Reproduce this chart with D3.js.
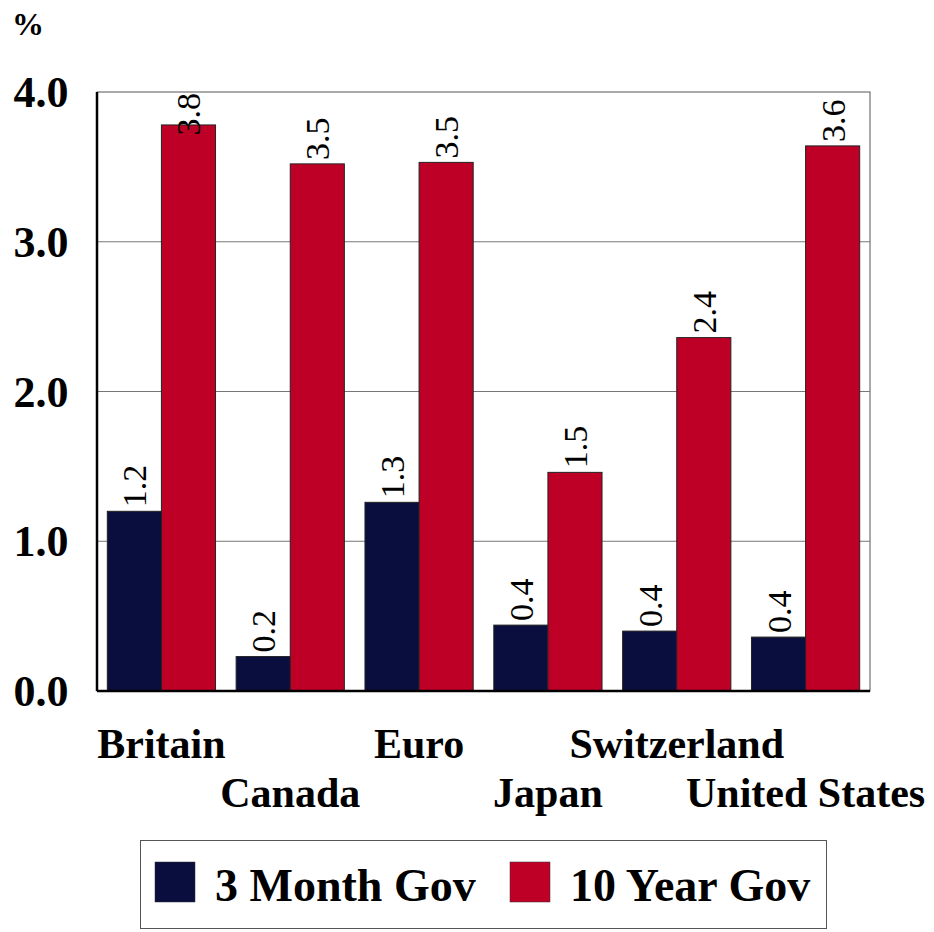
<!DOCTYPE html>
<html>
<head>
<meta charset="utf-8">
<script src="https://cdn.jsdelivr.net/npm/d3@7"></script>
<style>
  body { margin: 0; background: #fff; }
  svg text { font-family: "Liberation Serif", "DejaVu Serif", serif; }
</style>
</head>
<body>
<script>
const countries = ["Britain", "Canada", "Euro", "Japan", "Switzerland", "United States"];
const seriesNames = ["3 Month Gov", "10 Year Gov"];
const threeMonth = [1.20, 0.23, 1.26, 0.44, 0.40, 0.36];
const tenYear = [3.78, 3.52, 3.53, 1.46, 2.36, 3.64];
const yTicks = [0, 1, 2, 3, 4];
const colors = ["#0a0e3e", "#be0027"];

const width = 934;
const height = 932;
const margin = { top: 92, right: 64, bottom: 241, left: 97 };

const svg = d3.select("body").append("svg")
  .attr("width", width)
  .attr("height", height);

const data = countries.map((c, i) => ({ country: c, values: [threeMonth[i], tenYear[i]] }));

const x0 = d3.scaleBand()
  .domain(countries)
  .range([margin.left, width - margin.right])
  .paddingInner(0.16)
  .paddingOuter(0.08);

const x1 = d3.scaleBand()
  .domain(d3.range(seriesNames.length))
  .range([0, x0.bandwidth()]);

const y = d3.scaleLinear()
  .domain([0, 4])
  .range([height - margin.bottom, margin.top]);

// frame
svg.append("rect")
  .attr("x", margin.left)
  .attr("y", margin.top)
  .attr("width", width - margin.left - margin.right)
  .attr("height", y(0) - margin.top)
  .attr("fill", "none")
  .attr("stroke", "#555")
  .attr("stroke-width", 1);

// gridlines
svg.append("g")
  .selectAll("line")
  .data(yTicks.slice(1, -1))
  .join("line")
  .attr("x1", margin.left)
  .attr("x2", width - margin.right)
  .attr("y1", d => y(d))
  .attr("y2", d => y(d))
  .attr("stroke", "#777")
  .attr("stroke-width", 1);

// bars
const groups = svg.append("g")
  .selectAll("g")
  .data(data)
  .join("g")
  .attr("transform", d => `translate(${x0(d.country)},0)`);

groups.selectAll("rect")
  .data(d => d.values)
  .join("rect")
  .attr("x", (d, i) => x1(i))
  .attr("y", d => y(d))
  .attr("width", x1.bandwidth())
  .attr("height", d => y(0) - y(d))
  .attr("fill", (d, i) => colors[i])
  .attr("stroke", "#222")
  .attr("stroke-width", 1);

// value labels (rotated), pushed down if they would run past the frame top
groups.selectAll("text")
  .data(d => d.values)
  .join("text")
  .attr("font-size", 34)
  .attr("fill", "#000")
  .text(d => d.toFixed(1))
  .each(function (d, i) {
    const len = this.getComputedTextLength();
    const start = Math.max(y(d) - 4, margin.top + len + 1);
    d3.select(this).attr("transform",
      `translate(${x1(i) + x1.bandwidth() / 2 + 12},${start}) rotate(-90)`);
  });

// axes lines
svg.append("line")
  .attr("x1", margin.left).attr("x2", margin.left)
  .attr("y1", margin.top).attr("y2", y(0))
  .attr("stroke", "#000").attr("stroke-width", 2.5);
svg.append("line")
  .attr("x1", margin.left).attr("x2", width - margin.right)
  .attr("y1", y(0)).attr("y2", y(0))
  .attr("stroke", "#000").attr("stroke-width", 2.5);

// y tick labels
svg.append("g")
  .selectAll("text")
  .data(yTicks)
  .join("text")
  .attr("x", 41)
  .attr("y", d => y(d) + 15)
  .attr("text-anchor", "middle")
  .attr("font-size", 44)
  .attr("font-weight", "bold")
  .text(d => d.toFixed(1));

svg.append("text")
  .attr("x", 12)
  .attr("y", 35)
  .attr("font-size", 32)
  .attr("font-weight", "bold")
  .text("%");

// category labels, alternating rows
svg.append("g")
  .selectAll("text")
  .data(countries)
  .join("text")
  .attr("x", d => x0(d) + x0.bandwidth() / 2)
  .attr("y", (d, i) => i % 2 === 0 ? 758 : 807)
  .attr("text-anchor", "middle")
  .attr("font-size", 42)
  .attr("font-weight", "bold")
  .text(d => d);

// legend
const legend = svg.append("g");
legend.append("rect")
  .attr("x", 140.5)
  .attr("y", 840.5)
  .attr("width", 686)
  .attr("height", 88)
  .attr("fill", "#fff")
  .attr("stroke", "#555")
  .attr("stroke-width", 1);

const legendX = [155, 510];
const items = legend.selectAll("g")
  .data(seriesNames)
  .join("g")
  .attr("transform", (d, i) => `translate(${legendX[i]},862)`);
items.append("rect")
  .attr("width", 40)
  .attr("height", 40)
  .attr("fill", (d, i) => colors[i])
  .attr("stroke", "#333")
  .attr("stroke-width", 0.5);
items.append("text")
  .attr("x", 60)
  .attr("y", 39)
  .attr("font-size", 46)
  .attr("font-weight", "bold")
  .text(d => d);
</script>
</body>
</html>
